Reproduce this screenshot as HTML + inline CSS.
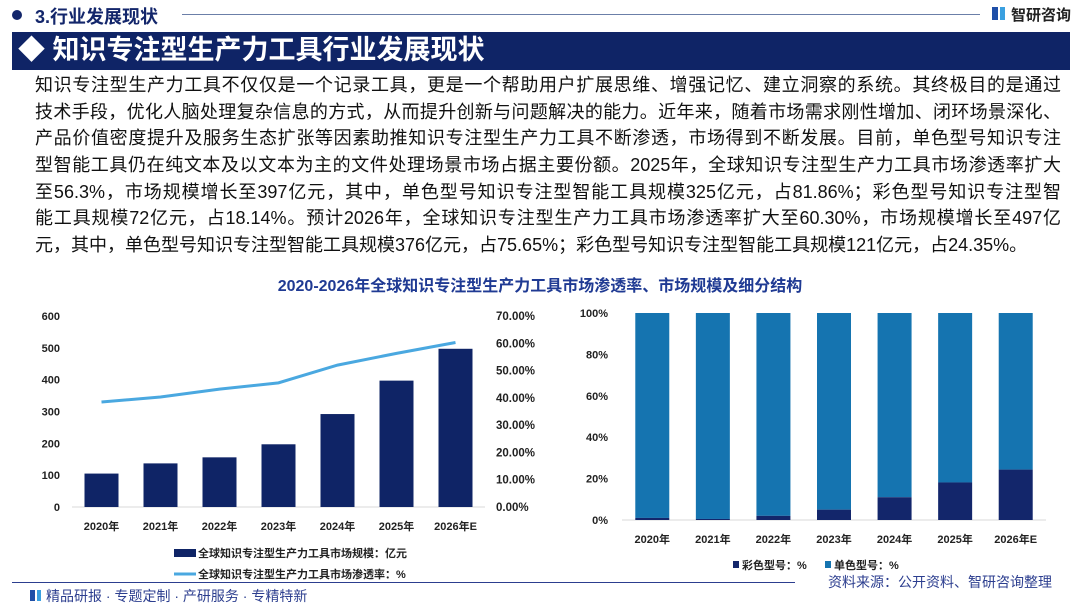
<!DOCTYPE html>
<html><head><meta charset="utf-8"><style>
body{margin:0;width:1080px;height:604px;background:#fff;overflow:hidden;font-family:"Liberation Sans","Noto Sans CJK SC",sans-serif;position:relative}
.abs{position:absolute}
#para{left:35px;top:72px;width:1026px;font-size:18px;line-height:26.7px;color:#111}
#para div{text-align:justify;text-align-last:justify;white-space:nowrap;height:26.7px}
#para div.last{text-align-last:left}
</style></head><body>
<div class="abs" style="left:12px;top:10px;width:10px;height:10px;border-radius:50%;background:#13266b"></div>
<div class="abs" style="left:35px;top:3px;font-size:18px;font-weight:bold;color:#13266b">3.行业发展现状</div>
<div class="abs" style="left:182px;top:14px;width:798px;height:1px;background:#6b7fa8"></div>
<div class="abs" style="left:992px;top:7px;width:6px;height:13px;background:#1f4fa8"></div>
<div class="abs" style="left:1000px;top:7px;width:5px;height:13px;background:#3aa0e0"></div>
<div class="abs" style="left:1011px;top:4px;font-size:15px;font-weight:bold;color:#222">智研咨询</div>
<div class="abs" style="left:12px;top:32px;width:1058px;height:38px;background:#0f2466"></div>
<div class="abs" style="left:18px;top:31px;font-size:27px;font-weight:bold;color:#fff;line-height:38px">◆ 知识专注型生产力工具行业发展现状</div>
<div class="abs" id="para">
<div>知识专注型生产力工具不仅仅是一个记录工具，更是一个帮助用户扩展思维、增强记忆、建立洞察的系统。其终极目的是通过</div>
<div>技术手段，优化人脑处理复杂信息的方式，从而提升创新与问题解决的能力。近年来，随着市场需求刚性增加、闭环场景深化、</div>
<div>产品价值密度提升及服务生态扩张等因素助推知识专注型生产力工具不断渗透，市场得到不断发展。目前，单色型号知识专注</div>
<div>型智能工具仍在纯文本及以文本为主的文件处理场景市场占据主要份额。2025年，全球知识专注型生产力工具市场渗透率扩大</div>
<div>至56.3%，市场规模增长至397亿元，其中，单色型号知识专注型智能工具规模325亿元，占81.86%；彩色型号知识专注型智</div>
<div>能工具规模72亿元，占18.14%。预计2026年，全球知识专注型生产力工具市场渗透率扩大至60.30%，市场规模增长至497亿</div>
<div class="last">元，其中，单色型号知识专注型智能工具规模376亿元，占75.65%；彩色型号知识专注型智能工具规模121亿元，占24.35%。</div>
</div>
<div class="abs" style="left:0;width:1080px;top:272px;text-align:center;font-size:16px;font-weight:bold;color:#1f3a93">2020-2026年全球知识专注型生产力工具市场渗透率、市场规模及细分结构</div>
<svg class="abs" style="left:0;top:0" width="1080" height="604" id="svg"></svg>
<div class="abs" style="left:12px;top:582px;width:783px;height:1px;background:#2c3e8f"></div>
<div class="abs" style="left:30px;top:590px;width:5px;height:11px;background:#1f4fa8"></div>
<div class="abs" style="left:37px;top:590px;width:4px;height:11px;background:#3aa0e0"></div>
<div class="abs" style="left:46px;top:587px;font-size:14px;color:#2c3e8f;line-height:18px">精品研报 · 专题定制 · 产研服务 · 专精特新</div>
<div class="abs" style="left:828px;top:572px;font-size:14px;color:#2c3e8f">资料来源：公开资料、智研咨询整理</div>
<script>
const years=["2020年","2021年","2022年","2023年","2024年","2025年","2026年E"];
const marketSize=[105,137,156,197,292,397,497];
const penetration=[38.5,40.3,43.2,45.5,52,56.3,60.3];
const leftTicks=[0,100,200,300,400,500,600];
const rightTicks=[0,10,20,30,40,50,60,70];
const colorShare=[1,0.5,2,5,11,18.14,24.35];
const pctTicks=[0,20,40,60,80,100];
const NS="http://www.w3.org/2000/svg";
const svg=document.getElementById('svg');
function mk(t,a,txt){const e=document.createElementNS(NS,t);for(const k in a)e.setAttribute(k,a[k]);if(txt!==undefined)e.textContent=txt;svg.appendChild(e);return e;}
const L={x0:72,x1:485,y0:507,y1:316};
const xL=i=>L.x0+(L.x1-L.x0)/7*(i+0.5);
const yL=v=>L.y0-(v/600)*(L.y0-L.y1);
const yR=v=>L.y0-(v/70)*(L.y0-L.y1);
let e=mk('line',{x1:L.x0,x2:L.x1,y1:L.y0,y2:L.y0,stroke:'#d9d9d9'});

leftTicks.forEach(t=>{e=mk('text',{x:60,y:yL(t)+4,'text-anchor':'end','font-size':11,'font-weight':'bold',fill:'#222'},t);
});
rightTicks.forEach(t=>{e=mk('text',{x:496,y:yR(t)+4,'font-size':11.5,'font-weight':'bold',fill:'#222'},t.toFixed(2)+'%');
});
marketSize.forEach((v,i)=>{e=mk('rect',{x:xL(i)-17,y:yL(v),width:34,height:L.y0-yL(v),fill:'#0f2466'});

e=mk('text',{x:xL(i),y:530,'text-anchor':'middle','font-size':11,'font-weight':'bold',fill:'#222'},years[i]);
});
e=mk('polyline',{points:penetration.map((v,i)=>xL(i)+','+yR(v)).join(' '),fill:'none',stroke:'#4aa8e0','stroke-width':3});

e=mk('rect',{x:174,y:549,width:22,height:8,fill:'#0f2466'});

e=mk('text',{x:198,y:557,'font-size':11,'font-weight':'bold',fill:'#222'},'全球知识专注型生产力工具市场规模：亿元');

e=mk('line',{x1:174,x2:196,y1:574,y2:574,stroke:'#4aa8e0','stroke-width':3});

e=mk('text',{x:198,y:578,'font-size':11,'font-weight':'bold',fill:'#222'},'全球知识专注型生产力工具市场渗透率：%');

const R={x0:622,x1:1046,y0:520,y1:313};
const xR=i=>R.x0+(R.x1-R.x0)/7*(i+0.5);
const yP=v=>R.y0-(v/100)*(R.y0-R.y1);
e=mk('line',{x1:R.x0,x2:R.x1,y1:R.y0,y2:R.y0,stroke:'#d9d9d9'});

pctTicks.forEach(t=>{e=mk('text',{x:608,y:yP(t)+4,'text-anchor':'end','font-size':11,'font-weight':'bold',fill:'#222'},t+'%');
});
colorShare.forEach((v,i)=>{
e=mk('rect',{x:xR(i)-17,y:R.y1,width:34,height:yP(v)-R.y1,fill:'#1574b0'});

e=mk('rect',{x:xR(i)-17,y:yP(v),width:34,height:R.y0-yP(v),fill:'#13266b'});

e=mk('text',{x:xR(i),y:543,'text-anchor':'middle','font-size':11,'font-weight':'bold',fill:'#222'},years[i]);
});
e=mk('rect',{x:733,y:561,width:6,height:7,fill:'#13266b'});

e=mk('text',{x:742,y:569,'font-size':11,'font-weight':'bold',fill:'#222'},'彩色型号：%');

e=mk('rect',{x:825,y:561,width:6,height:7,fill:'#1574b0'});

e=mk('text',{x:834,y:569,'font-size':11,'font-weight':'bold',fill:'#222'},'单色型号：%');

</script>
</body></html>
